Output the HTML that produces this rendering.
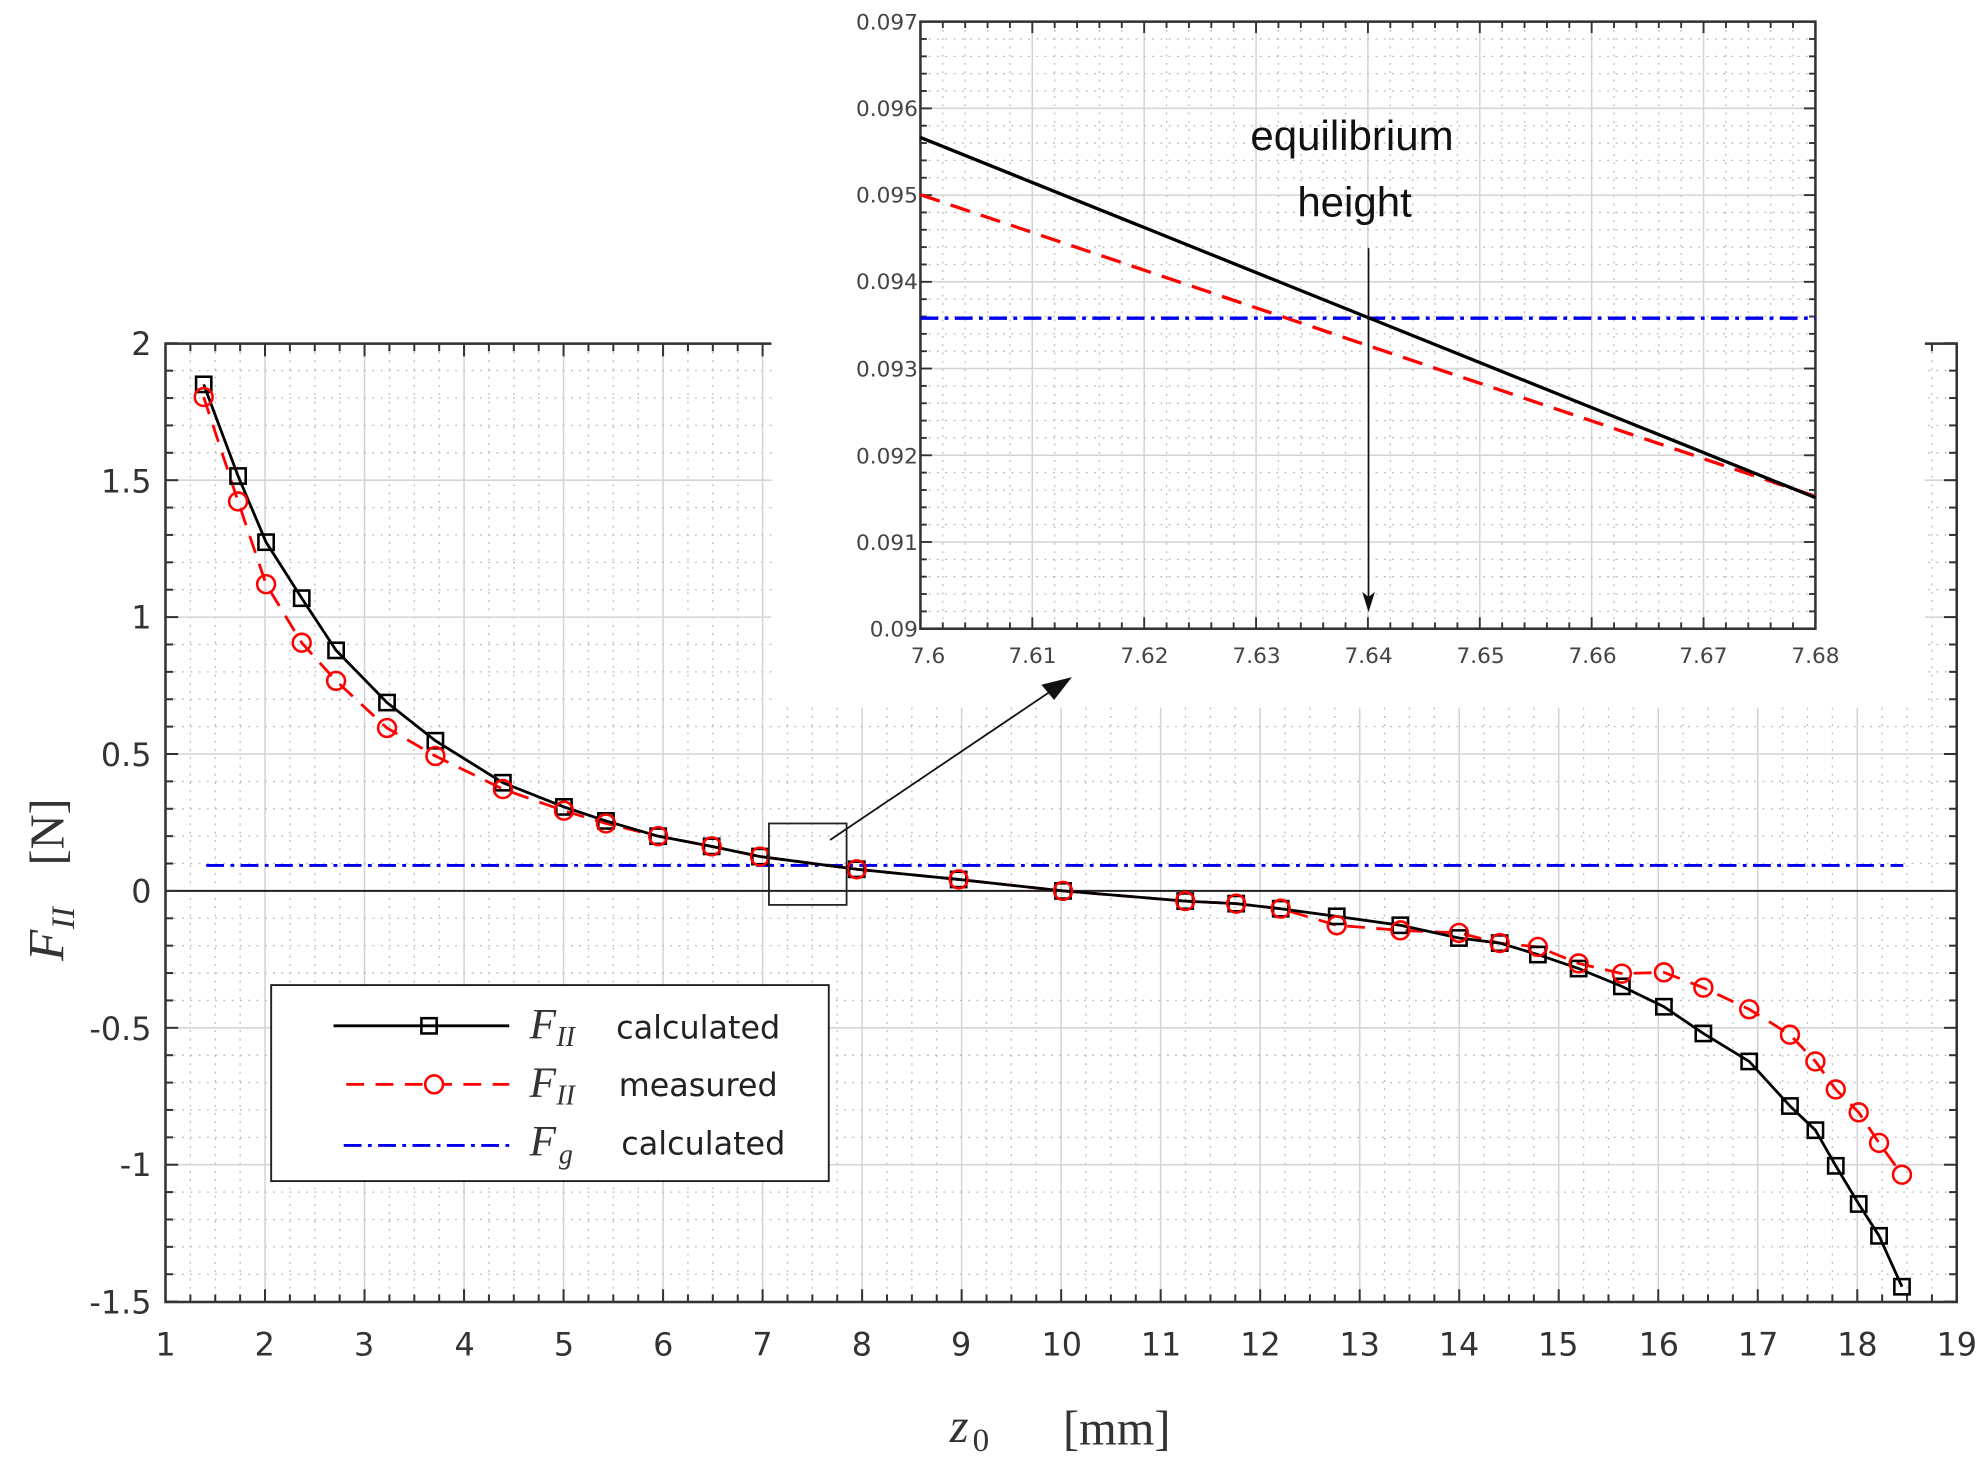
<!DOCTYPE html>
<html><head><meta charset="utf-8"><style>html,body{margin:0;padding:0;background:#fff}svg{display:block}</style></head>
<body>
<svg id="s" width="1986" height="1470" viewBox="0 0 1560 1155" preserveAspectRatio="none" xmlns="http://www.w3.org/2000/svg">
<rect width="1560" height="1155" fill="#fff"/>
<g id="maingrid"></g>
<!-- zero line -->
<line x1="130" y1="700" x2="1537" y2="700" stroke="#222" stroke-width="1.6"/>
<g id="mainticks"></g>
<!-- Main frame -->
<rect x="130" y="270" width="1407" height="753" fill="none" stroke="#333" stroke-width="2"/>
<!-- inset white cover -->
<rect x="606" y="0" width="906" height="556" fill="#fff"/>
<!-- main axis tick labels -->
<g font-family="DejaVu Sans, Liberation Sans, sans-serif" font-size="25" fill="#333" text-anchor="end">
<text x="119" y="279">2</text><text x="119" y="387">1.5</text><text x="119" y="494">1</text>
<text x="119" y="602">0.5</text><text x="119" y="709">0</text><text x="119" y="817">-0.5</text>
<text x="119" y="924">-1</text><text x="119" y="1032">-1.5</text>
</g>
<g font-family="DejaVu Sans, Liberation Sans, sans-serif" font-size="25" fill="#333" text-anchor="middle">
<text x="130" y="1065">1</text><text x="208" y="1065">2</text><text x="286" y="1065">3</text><text x="365" y="1065">4</text>
<text x="443" y="1065">5</text><text x="521" y="1065">6</text><text x="599" y="1065">7</text><text x="677" y="1065">8</text>
<text x="755" y="1065">9</text><text x="834" y="1065">10</text><text x="912" y="1065">11</text><text x="990" y="1065">12</text>
<text x="1068" y="1065">13</text><text x="1146" y="1065">14</text><text x="1224" y="1065">15</text><text x="1303" y="1065">16</text>
<text x="1381" y="1065">17</text><text x="1459" y="1065">18</text><text x="1537" y="1065">19</text>
</g>
<!-- axis titles -->
<text x="746" y="1133" font-family="Liberation Serif, serif" font-style="italic" font-size="38" fill="#333">z</text>
<text x="764" y="1140" font-family="Liberation Serif, serif" font-size="26" fill="#333">0</text>
<text x="835" y="1135" font-family="Liberation Serif, serif" font-size="38" fill="#333">[mm]</text>
<g transform="translate(50,700) rotate(-90)" fill="#333" font-family="Liberation Serif, serif">
<text x="-55" y="0" font-style="italic" font-size="40">F</text>
<text x="-30" y="8" font-style="italic" font-size="26">II</text>
<text x="20" y="0" font-size="38">[N]</text>
</g>
<!-- Fg -->
<line x1="162" y1="680" x2="1495" y2="680" stroke="#0000ee" stroke-width="2.2" stroke-dasharray="14,5,3,5"/>
<g id="series"></g>
<!-- zoom box and arrow -->
<rect x="604" y="647" width="61" height="64" fill="none" stroke="#222" stroke-width="1.4"/>
<line x1="652" y1="660" x2="830" y2="540" stroke="#111" stroke-width="1.4"/>
<polygon points="842,532 818,538 828,550" fill="#111"/>
<!-- legend -->
<rect x="213" y="774" width="438" height="154" fill="#fff" stroke="#222" stroke-width="1.5"/>
<line x1="262" y1="806" x2="400" y2="806" stroke="#000" stroke-width="2.2"/>
<rect x="331" y="800" width="12" height="12" fill="none" stroke="#000" stroke-width="2"/>
<line x1="272" y1="852" x2="400" y2="852" stroke="#f00" stroke-width="2.2" stroke-dasharray="14,9"/>
<circle cx="341" cy="852" r="7" fill="#fff" stroke="#f00" stroke-width="2"/>
<line x1="270" y1="900" x2="400" y2="900" stroke="#0000ee" stroke-width="2.2" stroke-dasharray="14,5,3,5"/>
<g font-family="Liberation Serif, serif" font-style="italic" fill="#333">
<text x="416" y="816" font-size="34">F</text><text x="437" y="822" font-size="22">II</text>
<text x="416" y="862" font-size="34">F</text><text x="437" y="868" font-size="22">II</text>
<text x="416" y="908" font-size="34">F</text><text x="439" y="914" font-size="22">g</text>
</g>
<g font-family="DejaVu Sans, Liberation Sans, sans-serif" font-size="25" fill="#222">
<text x="484" y="816">calculated</text><text x="486" y="861">measured</text><text x="488" y="907">calculated</text>
</g>
<!-- inset -->
<g id="insetgrid"></g>
<rect x="723" y="17" width="703" height="477" fill="none" stroke="#333" stroke-width="2"/>
<g font-family="DejaVu Sans, Liberation Sans, sans-serif" font-size="17" fill="#444" text-anchor="end">
<text x="721" y="23">0.097</text><text x="721" y="91">0.096</text><text x="721" y="159">0.095</text>
<text x="721" y="227">0.094</text><text x="721" y="296">0.093</text><text x="721" y="364">0.092</text>
<text x="721" y="432">0.091</text><text x="721" y="500">0.09</text>
</g>
<g font-family="DejaVu Sans, Liberation Sans, sans-serif" font-size="17" fill="#444" text-anchor="middle">
<text x="729" y="521">7.6</text><text x="811" y="521">7.61</text><text x="899" y="521">7.62</text><text x="987" y="521">7.63</text>
<text x="1075" y="521">7.64</text><text x="1163" y="521">7.65</text><text x="1251" y="521">7.66</text><text x="1338" y="521">7.67</text>
<text x="1426" y="521">7.68</text>
</g>
<line x1="723" y1="250" x2="1426" y2="250" stroke="#0000ee" stroke-width="2.6" stroke-dasharray="14,5,3,5"/>
<line x1="723" y1="153" x2="1426" y2="390" stroke="#f00" stroke-width="2.6" stroke-dasharray="16,9"/>
<line x1="723" y1="108" x2="1426" y2="391" stroke="#000" stroke-width="2.6"/>
<line x1="1075" y1="195" x2="1075" y2="470" stroke="#111" stroke-width="1.3"/>
<polygon points="1075,481 1070,465 1075,469 1080,465" fill="#111"/>
<g font-family="Liberation Sans, sans-serif" font-size="33" fill="#111" text-anchor="middle">
<text x="1062" y="118">equilibrium</text><text x="1064" y="170">height</text>
</g>
</svg>
<script>
var NS="http://www.w3.org/2000/svg";
function el(p,t,a){var e=document.createElementNS(NS,t);for(var k in a)e.setAttribute(k,a[k]);p.appendChild(e);return e;}
var mg=document.getElementById("maingrid"),mt=document.getElementById("mainticks");
var X=function(v){return 130+(v-1)*78.17},Y=function(v){return 700-v*215.14};
for(var i=0;i<=72;i++){var v=1+i*0.25,x=X(v);
 if(i%4==0){el(mg,"line",{x1:x,y1:270,x2:x,y2:1023,stroke:"#d4d4d4","stroke-width":1.2});}
 else el(mg,"line",{x1:x,y1:270,x2:x,y2:1023,stroke:"#bbb","stroke-width":1,"stroke-dasharray":"1.5,5"});
 var L=(i%4==0)?10:6;
 el(mt,"line",{x1:x,y1:1023,x2:x,y2:1023-L,stroke:"#333","stroke-width":1.6});
 el(mt,"line",{x1:x,y1:270,x2:x,y2:270+L,stroke:"#333","stroke-width":1.6});}
for(var j=0;j<=35;j++){var v=-1.5+j*0.1,y=Y(v);
 if(j%5==0){el(mg,"line",{x1:130,y1:y,x2:1537,y2:y,stroke:"#d4d4d4","stroke-width":1.2});}
 else el(mg,"line",{x1:130,y1:y,x2:1537,y2:y,stroke:"#bbb","stroke-width":1,"stroke-dasharray":"1.5,5"});
 var L=(j%5==0)?10:6;
 el(mt,"line",{x1:130,y1:y,x2:130+L,y2:y,stroke:"#333","stroke-width":1.6});
 el(mt,"line",{x1:1537,y1:y,x2:1537-L,y2:y,stroke:"#333","stroke-width":1.6});}
var B=[[160,302],[187,374],[209,426],[237,470],[264,511],[304,552],[342,582],[395,615],[443,634],[476,645],[517,657],[559,665],[597,673],[673,683],[753,691],[835,700],[931,708],[971,710],[1006,714],[1050,720],[1100,727],[1146,737],[1178,741],[1208,750],[1240,761],[1274,775],[1307,791],[1338,812],[1374,834],[1406,869],[1426,888],[1442,916],[1460,946],[1476,971],[1494,1011]];
var R=[[160,312],[187,394],[209,459],[237,505],[264,535],[304,572],[342,594],[395,620],[443,637],[476,647],[517,657],[559,665],[597,673],[673,683],[753,691],[835,700],[931,708],[971,710],[1006,714],[1050,727],[1100,731],[1146,733],[1178,741],[1208,744],[1240,757],[1274,765],[1307,764],[1338,776],[1374,793],[1406,813],[1426,834],[1442,856],[1460,874],[1476,898],[1494,923]];
var S=document.getElementById("series");
el(S,"polyline",{points:R.map(function(p){return p.join(",")}).join(" "),fill:"none",stroke:"#f00","stroke-width":2.2,"stroke-dasharray":"14,9"});
el(S,"polyline",{points:B.map(function(p){return p.join(",")}).join(" "),fill:"none",stroke:"#000","stroke-width":2.2});
B.forEach(function(p){el(S,"rect",{x:p[0]-6,y:p[1]-6,width:12,height:12,fill:"none",stroke:"#000","stroke-width":2});});
R.forEach(function(p){el(S,"circle",{cx:p[0],cy:p[1],r:7,fill:"none",stroke:"#f00","stroke-width":2});});
var ig=document.getElementById("insetgrid");
for(var i=0;i<=40;i++){var x=723+i*703/40,maj=i%5==0;
 el(ig,"line",{x1:x,y1:17,x2:x,y2:494,stroke:maj?"#d4d4d4":"#bbb","stroke-width":maj?1.2:1,"stroke-dasharray":maj?"":"1.5,5"});
 var L=maj?9:5;el(ig,"line",{x1:x,y1:494,x2:x,y2:494-L,stroke:"#333","stroke-width":1.5});el(ig,"line",{x1:x,y1:17,x2:x,y2:17+L,stroke:"#333","stroke-width":1.5});}
for(var j=0;j<=35;j++){var y=17+j*477/35,maj=j%5==0;
 el(ig,"line",{x1:723,y1:y,x2:1426,y2:y,stroke:maj?"#d4d4d4":"#bbb","stroke-width":maj?1.2:1,"stroke-dasharray":maj?"":"1.5,5"});
 var L=maj?9:5;el(ig,"line",{x1:723,y1:y,x2:723+L,y2:y,stroke:"#333","stroke-width":1.5});el(ig,"line",{x1:1426,y1:y,x2:1426-L,y2:y,stroke:"#333","stroke-width":1.5});}
</script>
</body></html>
